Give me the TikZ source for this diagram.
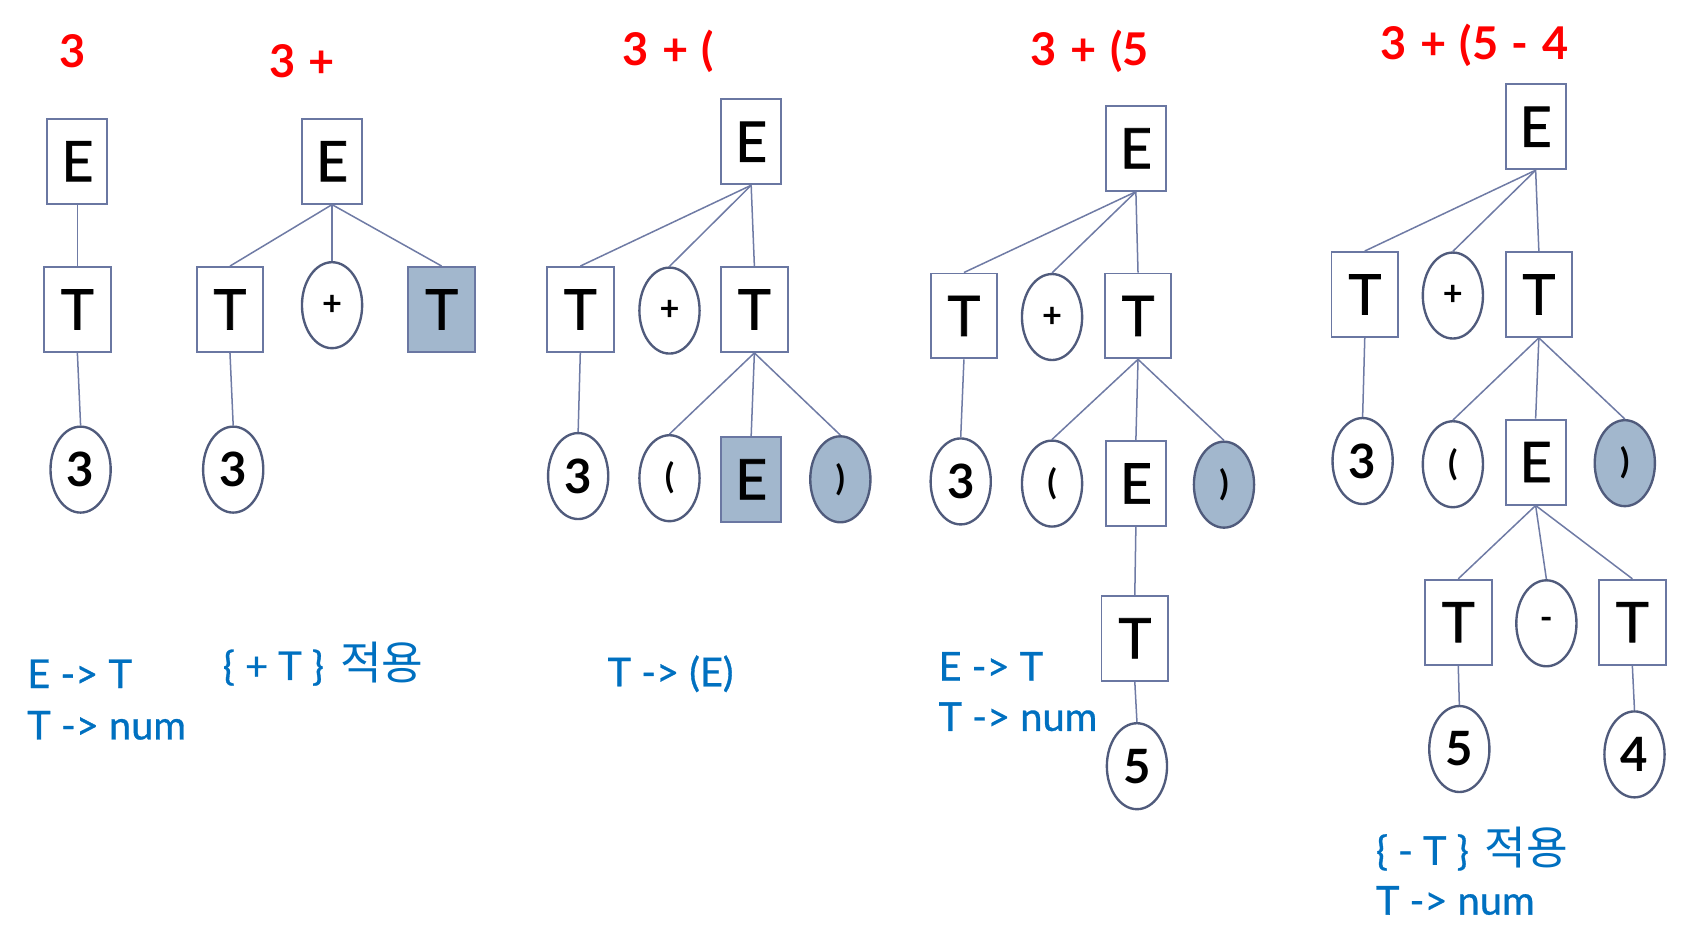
\documentclass[tikz,border=0pt]{standalone}
\usepackage{fontspec}
\setmainfont{Lato}
\newfontfamily\kofont{Noto Sans CJK KR}[Scale=1.14]
\newfontfamily\nodefont{Lato}[FakeBold=1.2]
\newfontfamily\bluefont{Lato}[FakeBold=0.8]
\usetikzlibrary{shapes.geometric}
\definecolor{edgec}{HTML}{6F7BA5}
\definecolor{boxc}{HTML}{6A77A2}
\definecolor{circc}{HTML}{505B7C}
\definecolor{hfill}{HTML}{A2B7CD}
\definecolor{redt}{HTML}{FF0000}
\definecolor{bluet}{HTML}{0070C0}
\newcommand{\rs}{\hspace{0.3em}}
\tikzset{
  bx/.style={draw=boxc, line width=0.9pt, rectangle, inner sep=0pt, minimum width=28pt, minimum height=39.5pt, font=\fontsize{26}{28}\nodefont},
  wbx/.style={bx, minimum width=31pt},
  el/.style={draw=circc, line width=1.1pt, ellipse, inner sep=0pt, minimum width=28pt, minimum height=40pt, font=\fontsize{22}{25}\selectfont\bfseries},
  sel/.style={el, font=\fontsize{16}{18}\selectfont\bfseries},
  hl/.style={fill=hfill},
  ed/.style={draw=edgec, line width=0.7pt},
  redlab/.style={text=redt, font=\fontsize{21}{24}\selectfont\bfseries, inner sep=0pt},
  bluelab/.style={text=bluet, font=\fontsize{18.5}{22}\bluefont, inner sep=0pt, anchor=west}
}
\begin{document}
\begin{tikzpicture}[x=0.5pt,y=-0.5pt]
\useasboundingbox (0,0) rectangle (1568,884);
% ---------- tree 1
\node[redlab] (r1) at (68,48) {3};
\node[bx] (a1) at (72,150) {E};
\node[wbx] (a2) at (72,288) {T};
\node[el] (a3) at (75,437) {3};
\draw[ed] (a1.south) -- (a2.north);
\draw[ed] (a2.south) -- (a3.north);
\node[bluelab] (l1a) at (25,627) {E -> T};
\node[bluelab] (l1b) at (25,675) {T -> num};
% ---------- tree 2
\node[redlab] (r2) at (281,57) {3\rs+};
\node[bx] (b1) at (309,150) {E};
\node[wbx] (b2) at (214,288) {T};
\node[sel] (b3) at (309,284) {+};
\node[wbx,hl] (b4) at (411,288) {T};
\node[el] (b5) at (217,437) {3};
\draw[ed] (b1.south) -- (b2.north);
\draw[ed] (b1.south) -- (b3.north);
\draw[ed] (b1.south) -- (b4.north);
\draw[ed] (b2.south) -- (b5.north);
\node[bluelab] (l2) at (207,618) {\{ + T \}\hspace{0.15em} {\kofont 적용}};
% ---------- tree 3
\node[redlab] (r3) at (622,48) {3\rs+\rs(};
\node[bx] (c1) at (699,132) {E};
\node[wbx] (c2) at (540,288) {T};
\node[sel] (c3) at (623,289) {+};
\node[wbx] (c4) at (702,288) {T};
\node[el] (c5) at (538,443) {3};
\node[sel] (c6) at (623,445) {(};
\node[bx,hl] (c7) at (699,446) {E};
\node[sel,hl] (c8) at (782,446) {)};
\draw[ed] (c1.south) -- (c2.north);
\draw[ed] (c1.south) -- (c3.north);
\draw[ed] (c1.south) -- (c4.north);
\draw[ed] (c2.south) -- (c5.north);
\draw[ed] (c4.south) -- (c6.north);
\draw[ed] (c4.south) -- (c7.north);
\draw[ed] (c4.south) -- (c8.north);
\node[bluelab] (l3) at (565,627) {T -> (E)};
% ---------- tree 4
\node[redlab] (r4) at (1014,48) {3\rs+\rs(5};
\node[bx] (d1) at (1057,138) {E};
\node[wbx] (d2) at (897,294) {T};
\node[sel] (d3) at (979,295) {+};
\node[wbx] (d4) at (1059,294) {T};
\node[el] (d5) at (894,448) {3};
\node[sel] (d6) at (979,450) {(};
\node[bx] (d7) at (1057,450) {E};
\node[sel,hl] (d8) at (1139,451) {)};
\node[wbx] (d9) at (1056,594) {T};
\node[el] (d10) at (1058,713) {5};
\draw[ed] (d1.south) -- (d2.north);
\draw[ed] (d1.south) -- (d3.north);
\draw[ed] (d1.south) -- (d4.north);
\draw[ed] (d2.south) -- (d5.north);
\draw[ed] (d4.south) -- (d6.north);
\draw[ed] (d4.south) -- (d7.north);
\draw[ed] (d4.south) -- (d8.north);
\draw[ed] (d7.south) -- (d9.north);
\draw[ed] (d9.south) -- (d10.north);
\node[bluelab] (l4a) at (873,620) {E -> T};
\node[bluelab] (l4b) at (873,667) {T -> num};
% ---------- tree 5
\node[redlab] (r5) at (1372,42) {3\rs+\rs(5\rs-\rs4};
\node[bx] (e1) at (1429,118) {E};
\node[wbx] (e2) at (1270,274) {T};
\node[sel] (e3) at (1352,275) {+};
\node[wbx] (e4) at (1432,274) {T};
\node[el] (e5) at (1268,429) {3};
\node[sel] (e6) at (1352,432) {(};
\node[bx] (e7) at (1429,430) {E};
\node[sel,hl] (e8) at (1512,431) {)};
\node[wbx] (e9) at (1357,579) {T};
\node[sel] (e10) at (1439,580) {-};
\node[wbx] (e11) at (1519,579) {T};
\node[el] (e12) at (1358,697) {5};
\node[el] (e13) at (1521,702) {4};
\draw[ed] (e1.south) -- (e2.north);
\draw[ed] (e1.south) -- (e3.north);
\draw[ed] (e1.south) -- (e4.north);
\draw[ed] (e2.south) -- (e5.north);
\draw[ed] (e4.south) -- (e6.north);
\draw[ed] (e4.south) -- (e7.north);
\draw[ed] (e4.south) -- (e8.north);
\draw[ed] (e7.south) -- (e9.north);
\draw[ed] (e7.south) -- (e10.north);
\draw[ed] (e7.south) -- (e11.north);
\draw[ed] (e9.south) -- (e12.north);
\draw[ed] (e11.south) -- (e13.north);
\node[bluelab] (l5a) at (1280,790) {\{ - T \}\hspace{0.15em} {\kofont 적용}};
\node[bluelab] (l5b) at (1280,838) {T -> num};
\end{tikzpicture}
\end{document}
